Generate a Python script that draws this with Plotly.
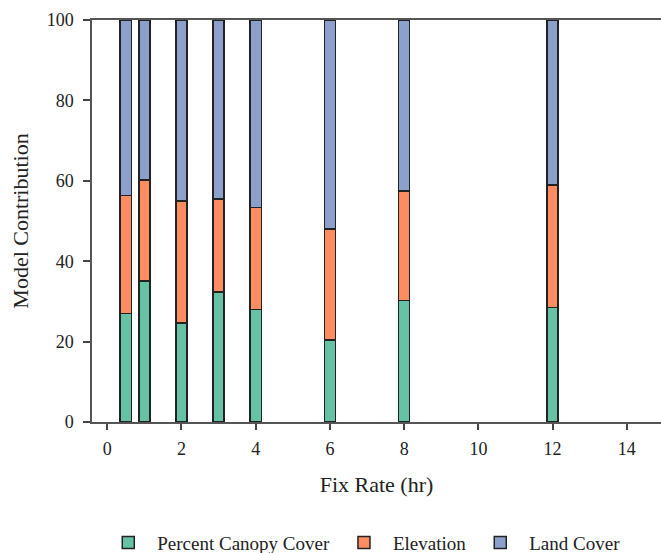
import plotly.graph_objects as go

fix_rate = [0.5, 1, 2, 3, 4, 6, 8, 12]
canopy = [27.0, 35.1, 24.6, 32.3, 28.0, 20.4, 30.2, 28.5]
elevation_top = [56.3, 60.2, 55.0, 55.5, 53.4, 48.0, 57.5, 59.0]
elevation = [round(t - c, 1) for t, c in zip(elevation_top, canopy)]
land_cover = [round(100 - t, 1) for t in elevation_top]

names = ["Percent Canopy Cover", "Elevation", "Land Cover"]
colors = ["#66c2a5", "#fc8d62", "#8da0cb"]
series = [canopy, elevation, land_cover]

fig = go.Figure()
for name, col, vals in zip(names, colors, series):
    fig.add_trace(go.Bar(
        x=fix_rate, y=vals, name=name, width=0.3,
        marker=dict(color=col, line=dict(color="#222222", width=1.5)),
    ))

font = "Liberation Serif"
fig.update_layout(
    barmode="stack",
    width=661, height=553,
    margin=dict(l=92, r=0, t=20, b=131, autoexpand=False),
    plot_bgcolor="white", paper_bgcolor="white",
    font=dict(family=font, size=18, color="#222222"),
    showlegend=True,
    legend=dict(orientation="h", x=0.475, xanchor="center", y=-0.30, yanchor="middle",
                font=dict(family=font, size=19, color="#222222"), traceorder="normal",
                itemwidth=48),
)
fig.update_xaxes(
    range=[-0.41, 14.92], tickvals=[0, 2, 4, 6, 8, 10, 12, 14],
    tickfont=dict(family=font, size=18, color="#222222"),
    ticks="outside", ticklen=6, tickcolor="#444444", tickwidth=1.5,
    ticklabelstandoff=4,
    showline=True, linecolor="#555555", linewidth=1.5, mirror=True,
    showgrid=False, zeroline=False,
    title=dict(text="Fix Rate (hr)", font=dict(family=font, size=22), standoff=18),
)
fig.update_yaxes(
    range=[0, 100], tickvals=[0, 20, 40, 60, 80, 100],
    tickfont=dict(family=font, size=18, color="#222222"),
    ticks="outside", ticklen=7, tickcolor="#444444", tickwidth=1.5,
    ticklabelstandoff=6,
    showline=True, linecolor="#555555", linewidth=1.5,
    showgrid=False, zeroline=False,
    title=dict(text="Model Contribution", font=dict(family=font, size=22), standoff=12),
)
fig.write_html("out.html", config={"displayModeBar": False},
               post_script="document.body.style.margin='0';document.body.style.overflow='hidden';")
